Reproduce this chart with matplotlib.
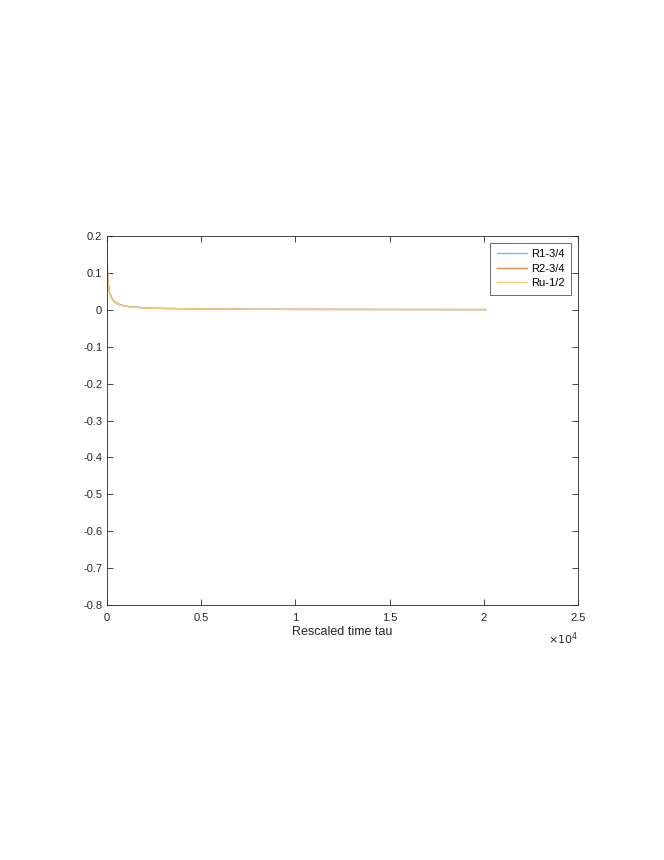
import matplotlib
matplotlib.use('Agg')
import matplotlib.pyplot as plt

plt.rcParams['font.family'] = ['Liberation Sans', 'DejaVu Sans']

# Rescaled time points
tau = [0, 30, 80, 150, 250, 400, 600, 900, 1300, 2000, 3000, 5000, 7500, 10000, 15000, 20100]

# Series values (the three curves practically coincide)
r1_34 = [0.165, 0.10, 0.065, 0.045, 0.032, 0.022, 0.016, 0.011, 0.008, 0.0055, 0.0038, 0.0024, 0.0016, 0.0012, 0.0008, 0.0006]
r2_34 = [0.160, 0.098, 0.064, 0.044, 0.031, 0.021, 0.015, 0.0105, 0.0075, 0.0052, 0.0036, 0.0023, 0.0015, 0.0011, 0.0008, 0.0006]
ru_12 = [0.155, 0.095, 0.062, 0.043, 0.030, 0.020, 0.0145, 0.010, 0.0072, 0.0050, 0.0035, 0.0022, 0.0015, 0.0011, 0.0007, 0.0005]

labels = ['R1-3/4', 'R2-3/4', 'Ru-1/2']
colors = ['#7FB5E0', '#E08A55', '#F2CF7A']

fig = plt.figure(figsize=(6.64, 8.6), dpi=100)
ax = fig.add_axes([107 / 664, 1 - 605 / 860, (578 - 107) / 664, (605 - 236) / 860])

for y, lab, c in zip([r1_34, r2_34, ru_12], labels, colors):
    ax.plot(tau, y, color=c, lw=1.0, label=lab)

ax.set_xlim(0, 25000)
ax.set_ylim(-0.8, 0.2)
ax.set_xticks([0, 5000, 10000, 15000, 20000, 25000])
ax.set_xticklabels(['0', '0.5', '1', '1.5', '2', '2.5'])
ax.set_yticks([-0.8, -0.7, -0.6, -0.5, -0.4, -0.3, -0.2, -0.1, 0, 0.1, 0.2])
ax.set_yticklabels(['-0.8', '-0.7', '-0.6', '-0.5', '-0.4', '-0.3', '-0.2', '-0.1', '0', '0.1', '0.2'])
ax.tick_params(direction='in', top=True, right=True, labelsize=8, colors='#262626', length=4, width=0.6)
ax.tick_params(axis='x', pad=6)
for s in ax.spines.values():
    s.set_linewidth(0.6)
    s.set_color('#262626')

ax.set_xlabel('Rescaled time tau', fontsize=9, color='#262626', labelpad=2)
ax.text(1.0, -0.07, r'$\times10^4$', transform=ax.transAxes, ha='right', va='top', fontsize=8, color='#262626')

leg = ax.legend(loc='upper right', fontsize=8, fancybox=False, edgecolor='#262626',
                borderaxespad=0.6, handlelength=2.7, handletextpad=0.4,
                labelspacing=0.4, borderpad=0.6)
leg.get_frame().set_linewidth(0.6)

fig.savefig('out.png', dpi=100)
